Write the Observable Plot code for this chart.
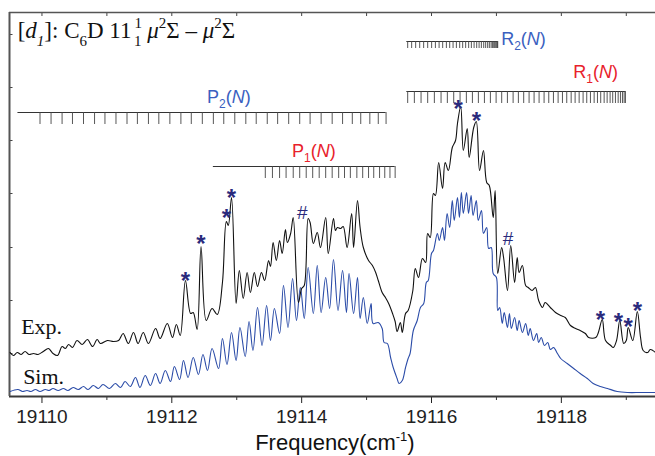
<!DOCTYPE html>
<html><head><meta charset="utf-8">
<script src="https://cdn.jsdelivr.net/npm/d3@7"></script>
<script src="https://cdn.jsdelivr.net/npm/@observablehq/plot@0.6"></script>
<style>body{margin:0;background:#fff;}</style>
</head><body><div id="chart"></div>
<script>
// Experimental spectrum [frequency cm-1, intensity a.u.]
const expData = [[19109.51,44],[19109.56,41],[19109.62,44],[19109.68,42],[19109.74,45],[19109.80,42],[19109.87,43],[19109.94,42],[19110.02,45],[19110.10,48],[19110.17,43],[19110.24,41],[19110.31,50],[19110.36,48],[19110.41,52],[19110.47,49],[19110.54,56],[19110.62,52],[19110.70,57],[19110.78,50],[19110.85,57],[19110.90,53],[19111.01,56],[19111.10,55],[19111.18,56],[19111.25,63],[19111.33,53],[19111.41,64],[19111.48,53],[19111.56,64],[19111.64,53],[19111.75,68],[19111.82,58],[19111.93,73],[19112.01,59],[19112.07,72],[19112.13,61],[19112.21,116],[19112.29,83],[19112.33,84],[19112.39,67],[19112.45,150],[19112.53,76],[19112.62,88],[19112.70,82],[19112.78,114],[19112.84,175],[19112.87,171],[19112.92,199],[19112.99,93],[19113.04,126],[19113.10,98],[19113.16,124],[19113.21,104],[19113.27,124],[19113.32,110],[19113.38,124],[19113.43,116],[19113.49,136],[19113.52,130],[19113.56,154],[19113.61,136],[19113.66,156],[19113.70,143],[19113.75,167],[19113.78,154],[19113.83,163],[19113.87,179],[19113.95,94],[19114.00,108],[19114.04,111],[19114.10,178],[19114.13,174],[19114.18,153],[19114.24,164],[19114.29,149],[19114.37,179],[19114.41,143],[19114.49,178],[19114.52,166],[19114.55,169],[19114.60,168],[19114.64,170],[19114.70,149],[19114.77,183],[19114.80,149],[19114.86,196],[19114.90,169],[19114.95,149],[19115.03,136],[19115.09,131],[19115.14,124],[19115.18,116],[19115.24,104],[19115.29,99],[19115.34,93],[19115.40,83],[19115.44,75],[19115.47,65],[19115.52,74],[19115.55,64],[19115.60,83],[19115.64,86],[19115.71,105],[19115.75,128],[19115.80,119],[19115.86,138],[19115.91,134],[19115.94,163],[19115.98,159],[19116.03,203],[19116.06,201],[19116.11,234],[19116.17,208],[19116.21,234],[19116.26,226],[19116.32,249],[19116.37,256],[19116.40,273],[19116.45,290],[19116.49,246],[19116.55,268],[19116.58,239],[19116.65,269],[19116.69,275],[19116.74,226],[19116.80,246],[19116.85,214],[19116.89,211],[19116.95,179],[19116.98,206],[19117.02,123],[19117.08,149],[19117.11,139],[19117.17,106],[19117.22,151],[19117.28,114],[19117.32,139],[19117.35,124],[19117.40,131],[19117.45,111],[19117.49,109],[19117.55,106],[19117.60,109],[19117.65,96],[19117.71,89],[19117.75,94],[19117.83,89],[19117.91,84],[19117.99,81],[19118.06,79],[19118.14,71],[19118.22,68],[19118.29,66],[19118.37,63],[19118.42,59],[19118.53,59],[19118.57,64],[19118.63,77],[19118.68,56],[19118.76,51],[19118.80,49],[19118.85,56],[19118.90,76],[19118.96,53],[19119.00,56],[19119.03,69],[19119.10,56],[19119.17,85],[19119.22,59],[19119.26,46],[19119.33,44],[19119.37,47],[19119.45,44]];

// Simulated spectrum
const simData = [[19109.51,5],[19109.63,7],[19109.70,5],[19109.77,6],[19109.83,5],[19109.90,7],[19109.97,5],[19110.05,7],[19110.11,6],[19110.17,8],[19110.25,6],[19110.33,8],[19110.40,6],[19110.48,9],[19110.56,7],[19110.64,10],[19110.71,7],[19110.79,11],[19110.87,8],[19110.94,12],[19111.04,8],[19111.13,13],[19111.21,9],[19111.28,15],[19111.36,10],[19111.44,19],[19111.51,9],[19111.59,21],[19111.67,11],[19111.75,23],[19111.82,13],[19111.90,26],[19111.98,15],[19112.04,30],[19112.12,17],[19112.18,36],[19112.25,19],[19112.33,39],[19112.41,22],[19112.48,42],[19112.55,26],[19112.62,48],[19112.72,28],[19112.78,58],[19112.85,32],[19112.92,64],[19112.99,36],[19113.05,69],[19113.13,40],[19113.19,75],[19113.25,46],[19113.32,89],[19113.39,51],[19113.46,91],[19113.52,56],[19113.58,88],[19113.66,63],[19113.72,111],[19113.79,69],[19113.86,118],[19113.92,76],[19113.98,109],[19114.04,78],[19114.10,129],[19114.18,83],[19114.24,131],[19114.30,84],[19114.37,119],[19114.43,88],[19114.49,137],[19114.56,86],[19114.63,126],[19114.69,84],[19114.73,123],[19114.80,83],[19114.86,119],[19114.90,78],[19114.95,99],[19115.01,73],[19115.07,93],[19115.10,73],[19115.18,74],[19115.24,68],[19115.27,54],[19115.32,53],[19115.37,39],[19115.41,29],[19115.47,18],[19115.50,13],[19115.55,16],[19115.60,29],[19115.64,38],[19115.67,43],[19115.72,66],[19115.78,76],[19115.83,89],[19115.88,93],[19115.92,114],[19115.95,116],[19116.00,143],[19116.03,146],[19116.09,163],[19116.12,156],[19116.17,169],[19116.20,156],[19116.24,183],[19116.28,169],[19116.32,196],[19116.35,176],[19116.40,199],[19116.43,179],[19116.46,204],[19116.49,183],[19116.54,204],[19116.57,183],[19116.61,201],[19116.64,181],[19116.69,196],[19116.72,176],[19116.77,186],[19116.80,163],[19116.85,169],[19116.88,148],[19116.92,149],[19116.95,123],[19117.00,119],[19117.02,86],[19117.05,89],[19117.09,73],[19117.12,84],[19117.17,69],[19117.20,83],[19117.23,68],[19117.28,79],[19117.32,66],[19117.35,76],[19117.40,64],[19117.45,73],[19117.49,61],[19117.52,68],[19117.57,56],[19117.62,63],[19117.65,54],[19117.69,59],[19117.74,51],[19117.79,54],[19117.83,47],[19117.88,49],[19117.94,43],[19117.99,38],[19118.09,33],[19118.19,28],[19118.29,23],[19118.40,18],[19118.49,13],[19118.60,10],[19118.71,8],[19118.86,5],[19119.02,4],[19119.22,4],[19119.45,4]];

// Rotational line positions (cm-1)
const p2Lines = [19109.97,19110.14,19110.31,19110.47,19110.64,19110.81,19110.97,19111.14,19111.31,19111.47,19111.64,19111.80,19111.97,19112.14,19112.30,19112.47,19112.64,19112.80,19112.97,19113.14,19113.30,19113.47,19113.63,19113.80,19113.97,19114.13,19114.30,19114.47,19114.63,19114.78,19114.91,19115.05,19115.18,19115.30];
const p1Lines = [19113.44,19113.55,19113.66,19113.76,19113.87,19113.97,19114.07,19114.17,19114.27,19114.37,19114.47,19114.57,19114.66,19114.75,19114.85,19114.94,19115.03,19115.11,19115.20,19115.28,19115.36,19115.44];
const r2Lines = [19115.633,19115.694,19115.756,19115.818,19115.879,19115.941,19116.002,19116.060,19116.117,19116.172,19116.229,19116.280,19116.332,19116.383,19116.434,19116.480,19116.526,19116.572,19116.614,19116.656,19116.696,19116.733,19116.768,19116.804,19116.834,19116.865,19116.891,19116.918,19116.938,19116.958,19116.973,19116.989,19117.004,19117.015,19117.020];
const r1Lines = [19115.633,19115.736,19115.839,19115.941,19116.044,19116.147,19116.244,19116.342,19116.440,19116.537,19116.630,19116.722,19116.815,19116.907,19116.995,19117.081,19117.169,19117.257,19117.338,19117.420,19117.503,19117.580,19117.657,19117.734,19117.806,19117.878,19117.950,19118.017,19118.083,19118.151,19118.212,19118.274,19118.335,19118.391,19118.448,19118.505,19118.556,19118.606,19118.659,19118.705,19118.751,19118.791,19118.833,19118.875,19118.910,19118.941,19118.967,19118.987];

// Marked features [frequency, intensity]
const starMarks = [[19112.21,122],[19112.45,159],[19112.84,185],[19112.92,205],[19116.41,294],[19116.69,282],[19118.60,83],[19118.88,81],[19119.03,76],[19119.17,92]];
const hashMarks = [[19114.01,184],[19117.18,158]];

const majorTicks = [19110,19112,19114,19116,19118];
const minorTicks = [19111,19113,19115,19117,19119];
const yTicks = [43,96,149,203,256,309,362];

const BLUE = "#3a5fbf", RED = "#e8212b", NAVY = "#2a2a7c";
const branches = [
  {name:"P", sub:"2", lines:p2Lines, start:19109.63, level:284, len:12, color:BLUE, lx:19112.55, ly:293},
  {name:"P", sub:"1", lines:p1Lines, start:19112.64, level:230, len:12, color:RED,  lx:19113.86, ly:239},
  {name:"R", sub:"2", lines:r2Lines, start:19115.62, level:355, len:7,  color:BLUE, lx:19117.08, ly:351},
  {name:"R", sub:"1", lines:r1Lines, start:19115.62, level:305, len:12, color:RED,  lx:19118.19, ly:318}
];
const toObj = a => a.map(([f, v]) => ({f, v}));
const combTicks = branches.flatMap(b => b.lines.map(f => ({f, y1: b.level, y2: b.level - b.len})));

const svg = Plot.plot({
  width: 655, height: 456,
  marginTop: 12, marginBottom: 60, marginLeft: 9, marginRight: 0,
  style: {fontFamily: "'Liberation Sans', Arial, sans-serif", background: "#fff", color: "#222"},
  x: {domain: [19109.5, 19119.45]},
  y: {domain: [0, 384]},
  marks: [
    Plot.axisX({anchor: "bottom", ticks: majorTicks, tickSize: 7, tickPadding: 6, fontSize: 19, tickFormat: d => String(d), label: null, color: "#222"}),
    Plot.axisX({anchor: "bottom", ticks: minorTicks, tickSize: 4, tickFormat: () => "", label: null, color: "#333"}),
    Plot.axisX({anchor: "top", ticks: majorTicks.concat(minorTicks), tickSize: 3, dy: 3, tickFormat: () => "", label: null, color: "#444"}),
    Plot.axisY({anchor: "left", ticks: yTicks, tickSize: 3.5, dx: 3.5, tickFormat: () => "", label: null, color: "#444"}),
    Plot.ruleY([0], {stroke: "#3a3a3a", strokeWidth: 2}),
    Plot.ruleY([384], {stroke: "#555", strokeWidth: 1.5}),
    Plot.ruleX([19109.5], {stroke: "#555", strokeWidth: 2}),
    Plot.ruleY(branches, {y: "level", x1: "start", x2: d => d3.max(d.lines), stroke: "#333", strokeWidth: 1}),
    Plot.ruleX(combTicks, {x: "f", y1: "y1", y2: "y2", stroke: "#444", strokeWidth: 0.9}),
    Plot.line(toObj(simData), {x: "f", y: "v", stroke: "#2b4ca8", strokeWidth: 1.1, curve: "catmull-rom"}),
    Plot.line(toObj(expData), {x: "f", y: "v", stroke: "#111", strokeWidth: 1.1, curve: "catmull-rom"}),
    Plot.text(toObj(starMarks), {x: "f", y: "v", text: () => "*", fill: NAVY, fontSize: 24, fontWeight: "bold", lineAnchor: "middle", dy: 7}),
    Plot.text(toObj(hashMarks), {x: "f", y: "v", text: () => "#", fill: NAVY, fontSize: 19, lineAnchor: "middle"}),
    Plot.text([{f: 19109.68, v: 63, t: "Exp."}, {f: 19109.71, v: 13, t: "Sim."}], {x: "f", y: "v", text: "t", textAnchor: "start", lineAnchor: "bottom", fontFamily: "'Liberation Serif', 'Times New Roman', serif", fontSize: 22, fill: "#111"})
  ]
});

const X = svg.scale("x"), Y = svg.scale("y");
const sel = d3.select(svg);
function rich(f, v, parts, attrs) {
  const t = sel.append("text").attr("x", X.apply(f)).attr("y", Y.apply(v)).attr("text-anchor", "start");
  for (const [k, val] of Object.entries(attrs)) t.attr(k, val);
  for (const p of parts) {
    const s = t.append("tspan").text(p.t);
    if (p.dy) s.attr("dy", p.dy);
    if (p.dx) s.attr("dx", p.dx);
    if (p.size) s.attr("font-size", p.size);
    if (p.it) s.attr("font-style", "italic");
  }
}
const serif = "'Liberation Serif', 'Times New Roman', serif";
rich(19109.634, 358, [
  {t: "["}, {t: "d", it: 1}, {t: "1", it: 1, size: 15, dy: 8}, {t: "]: C", dy: -8},
  {t: "6", size: 15, dy: 8}, {t: "D 11", dy: -8},
  {t: "1", size: 15, dy: -10, dx: 3}, {t: "1", size: 15, dx: -7.5, dy: 18},
  {t: " ", dy: -8}, {t: "μ", it: 1}, {t: "2", size: 15, dy: -10}, {t: "Σ – ", dy: 10},
  {t: "μ", it: 1}, {t: "2", size: 15, dy: -10}, {t: "Σ", dy: 10}
], {"font-family": serif, "font-size": 23, fill: "#111"});

for (const b of branches) {
  rich(b.lx, b.ly, [
    {t: b.name}, {t: b.sub, size: 12, dy: 5}, {t: "(", dy: -5}, {t: "N", it: 1}, {t: ")"}
  ], {"font-family": "'Liberation Sans', Arial, sans-serif", "font-size": 18, fill: b.color});
}

rich(19114.52, -54, [
  {t: "Frequency(cm"}, {t: "-1", size: 13, dy: -9}, {t: ")", dy: 9}
], {"font-family": "'Liberation Sans', Arial, sans-serif", "font-size": 22, fill: "#111", "text-anchor": "middle"});

document.getElementById("chart").appendChild(svg);
</script>
</body></html>
